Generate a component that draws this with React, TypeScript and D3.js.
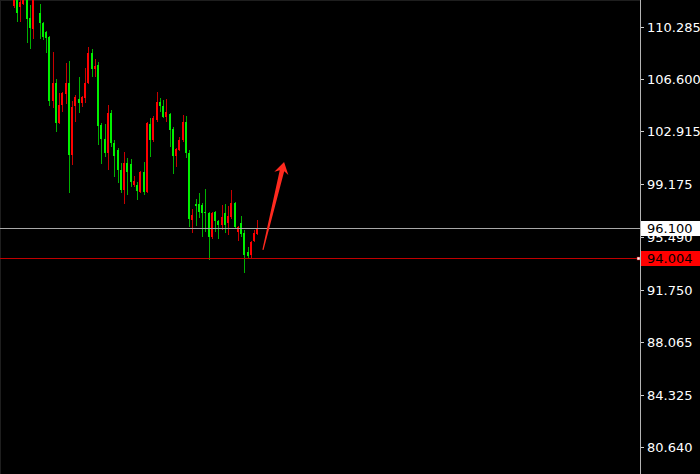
import React from 'react';
import * as d3 from 'd3';

const W = 700;
const H = 474;

// price axis tick labels
const tickLabels = ["110.285", "106.600", "102.915", "99.175", "95.490", "91.750", "88.065", "84.325", "80.640"];

// OHLC series (one entry per bar, left to right)
const opens = [
  111.77, 112.33, 111.70, 111.91, 112.47, 110.92, 110.14, 112.75, 111.27, 110.57,
  109.93, 109.58, 105.06, 106.33, 103.51, 104.78, 105.56, 106.33, 101.24, 104.71,
  105.20, 104.92, 105.27, 106.33, 108.45, 107.32, 107.60, 103.37, 102.38, 101.39,
  104.21, 102.10, 101.60, 100.19, 98.78, 100.69, 100.61, 99.13, 99.13, 98.64,
  100.05, 98.64, 103.44, 102.31, 103.72, 104.99, 104.71, 103.93, 104.14, 103.09,
  101.18, 101.60, 102.31, 103.58, 101.39, 96.66, 97.79, 97.79, 97.72, 97.23,
  97.16, 95.46, 97.23, 96.59, 96.31, 97.16, 96.45, 96.88, 97.86, 95.82,
  96.45, 95.75, 94.41, 94.19, 95.18, 95.68,
];
const highs = [
  112.54, 112.47, 112.26, 112.61, 112.61, 111.84, 112.61, 113.25, 111.91, 110.64,
  110.00, 109.65, 108.52, 106.61, 105.63, 105.70, 107.74, 107.89, 105.06, 105.49,
  106.76, 105.41, 107.39, 108.87, 108.73, 108.03, 107.81, 103.51, 103.44, 104.78,
  104.43, 102.31, 101.75, 100.69, 101.46, 101.04, 100.97, 99.77, 99.35, 100.12,
  100.76, 103.58, 103.86, 104.00, 105.70, 105.27, 105.13, 105.20, 104.21, 103.23,
  101.75, 102.52, 104.07, 104.00, 101.60, 97.44, 98.14, 98.57, 97.86, 98.85,
  97.23, 97.23, 97.30, 96.66, 97.72, 97.79, 97.65, 98.78, 97.93, 96.24,
  96.95, 95.96, 94.76, 95.18, 95.96, 96.66,
];
const lows = [
  111.63, 110.64, 110.64, 111.84, 109.16, 108.73, 109.44, 112.54, 109.44, 109.37,
  108.45, 104.71, 104.57, 102.87, 103.44, 104.28, 104.85, 98.57, 100.54, 103.58,
  104.21, 104.64, 104.92, 106.26, 106.76, 106.76, 101.96, 100.61, 101.11, 100.19,
  101.82, 99.70, 99.27, 98.57, 97.79, 98.43, 98.99, 98.99, 98.07, 98.57,
  98.43, 98.57, 101.11, 102.17, 103.58, 104.28, 103.86, 103.58, 101.82, 99.91,
  100.40, 101.53, 102.17, 101.04, 96.17, 95.75, 96.24, 96.80, 95.46, 95.82,
  93.84, 95.32, 95.82, 95.32, 95.96, 95.75, 95.60, 96.73, 96.03, 95.18,
  95.46, 92.92, 93.91, 93.91, 95.11, 95.60,
];
const closes = [
  112.33, 111.27, 112.05, 112.40, 110.85, 110.21, 112.40, 113.04, 110.57, 109.58,
  109.51, 105.06, 106.33, 103.51, 104.78, 105.63, 106.33, 101.24, 104.64, 105.34,
  104.92, 105.34, 106.33, 108.45, 107.32, 107.53, 103.30, 102.38, 101.39, 104.21,
  102.10, 101.18, 100.19, 98.78, 100.69, 100.05, 99.35, 99.42, 98.71, 100.05,
  98.64, 103.51, 102.31, 103.86, 104.99, 104.71, 103.93, 104.28, 103.02, 101.18,
  101.67, 102.31, 103.58, 101.39, 96.73, 97.02, 97.65, 97.23, 97.16, 97.16,
  95.46, 97.16, 96.59, 96.31, 96.88, 96.31, 96.95, 97.86, 96.17, 96.17,
  95.68, 94.19, 94.12, 95.11, 95.75, 96.10,
];

const bidPrice = 96.100;
const bidLabel = "96.100";
const linePrice = 94.004;
const lineLabel = "94.004";

// annotation arrow, in (bar index, price)
const arrowFrom = [76.6, 94.55];
const arrowTo = [83.1, 100.76];

const PLOT_RIGHT = 640;
const FONT = "'DejaVu Sans', Verdana, sans-serif";

export default function App() {
  const n = opens.length;
  const x = d3.scaleLinear().domain([0, n - 1]).range([14, 14 + (n - 1) * 3.25]);
  const y = d3.scaleLinear().domain([80.64, 110.285]).range([447, 27]);

  const candles = opens.map((o, i) => {
    const c = closes[i];
    const up = c > o;
    const cx = Math.floor(x(i));
    const top = Math.round(y(Math.max(o, c)));
    const bot = Math.round(y(Math.min(o, c)));
    const hi = Math.round(y(highs[i]));
    const lo = Math.round(y(lows[i]));
    return (
      <g key={i}>
        <rect x={cx} y={hi} width={1} height={Math.max(1, lo - hi)} fill={up ? '#c80000' : '#00b000'} />
        <rect x={cx - 1} y={top} width={2} height={Math.max(1, bot - top)} fill={up ? '#ff0000' : '#00f000'} />
      </g>
    );
  });

  // arrow geometry
  const T = [x(arrowFrom[0]), y(arrowFrom[1])];
  const P = [x(arrowTo[0]), y(arrowTo[1])];
  const len = Math.hypot(P[0] - T[0], P[1] - T[1]);
  const u = [(P[0] - T[0]) / len, (P[1] - T[1]) / len];
  const nv = [-u[1], u[0]];
  const pt = (base: number[], a: number, b: number) => [base[0] + a * u[0] + b * nv[0], base[1] + a * u[1] + b * nv[1]];
  const arrowPts = [
    P,
    pt(P, -11.7, 7.2),
    pt(P, -9, 2.3),
    pt(T, 0, 0.6),
    pt(T, 0, -0.6),
    pt(P, -9, -2.3),
    pt(P, -11.7, -7.2),
  ];
  const arrowPath = d3.line()(arrowPts as [number, number][]) + 'Z';

  const bidY = Math.round(y(bidPrice)) + 0.5;
  const lineY = Math.round(y(linePrice)) + 0.5;

  return (
    <svg width={W} height={H} style={{ position: 'fixed', left: 0, top: 0, background: '#000' }}>
      <rect x={0} y={0} width={W} height={H} fill="#000" />
      <line x1={0.5} y1={0} x2={0.5} y2={H} stroke="#1e1e1e" />
      <line x1={0} y1={0.5} x2={PLOT_RIGHT} y2={0.5} stroke="#1e1e1e" />
      <g shapeRendering="crispEdges">{candles}</g>
      <line x1={0} x2={PLOT_RIGHT} y1={bidY} y2={bidY} stroke="#a8a8a8" strokeWidth={1} shapeRendering="crispEdges" />
      <line x1={0} x2={PLOT_RIGHT - 2} y1={lineY} y2={lineY} stroke="#c00000" strokeWidth={1} shapeRendering="crispEdges" />
      <rect x={PLOT_RIGHT - 3} y={lineY - 1.5} width={3} height={3} fill="#fff" stroke="#c00000" strokeWidth={0.5} />
      <path d={arrowPath} fill="#ff2a1f" />
      {/* price axis */}
      <line x1={PLOT_RIGHT + 0.5} x2={PLOT_RIGHT + 0.5} y1={0} y2={H} stroke="#b4b4b4" shapeRendering="crispEdges" />
      {tickLabels.map((t) => {
        const ty = Math.round(y(+t)) + 0.5;
        return (
          <g key={t}>
            <line x1={PLOT_RIGHT + 1} x2={PLOT_RIGHT + 4} y1={ty} y2={ty} stroke="#d0d0d0" shapeRendering="crispEdges" />
            <text x={647} y={ty} dy="0.36em" fill="#fff" fontSize={13} fontFamily={FONT}>{t}</text>
          </g>
        );
      })}
      <rect x={PLOT_RIGHT + 1} y={bidY - 7.5} width={W - PLOT_RIGHT - 1} height={15} fill="#fff" shapeRendering="crispEdges" />
      <text x={647} y={bidY} dy="0.36em" fill="#000" fontSize={13} fontFamily={FONT}>{bidLabel}</text>
      <rect x={PLOT_RIGHT + 1} y={lineY - 7.5} width={W - PLOT_RIGHT - 1} height={15} fill="#ff0000" shapeRendering="crispEdges" />
      <text x={647} y={lineY} dy="0.36em" fill="#000" fontSize={13} fontFamily={FONT}>{lineLabel}</text>
    </svg>
  );
}
